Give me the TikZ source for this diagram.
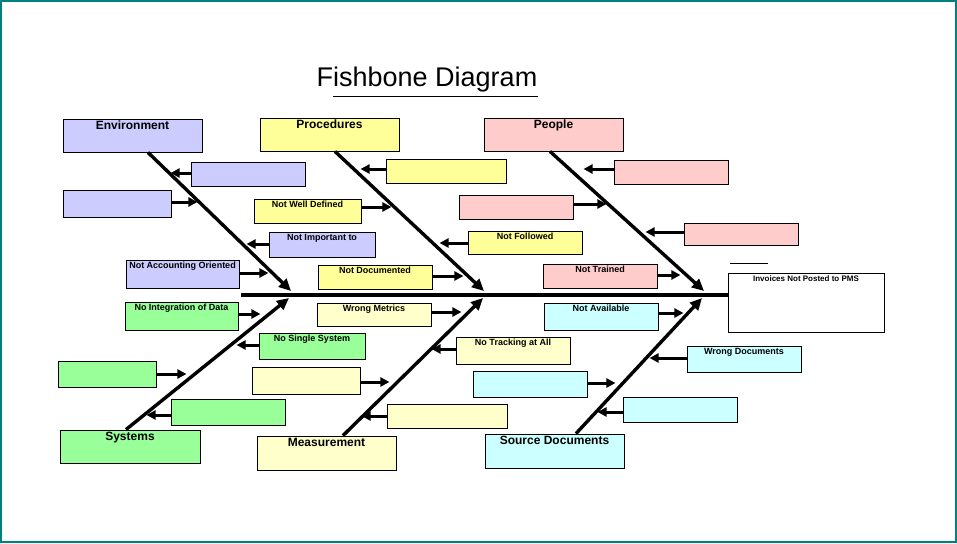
\documentclass[tikz,border=0pt]{standalone}
\usepackage{fontspec}
\setmainfont{Liberation Sans}
\usetikzlibrary{arrows.meta}
\definecolor{envblue}{RGB}{204,204,255}
\definecolor{procyellow}{RGB}{255,255,153}
\definecolor{peoplepink}{RGB}{255,204,204}
\definecolor{sysgreen}{RGB}{153,255,153}
\definecolor{measyellow}{RGB}{255,255,204}
\definecolor{srccyan}{RGB}{204,255,255}
\definecolor{frameteal}{RGB}{0,128,128}

% box: name, x1, y1, x2, y2, fill, text, font
\newcommand{\fishbox}[8]{%
  \node[draw=black, line width=0.9pt, fill=#6, inner sep=0pt, minimum width={(#4-#2)*1pt}, minimum height={(#5-#3)*1pt},
    label={[anchor=north, inner sep=2.5pt, font=#8]north:#7}] (#1) at ({(#2+#4)/2},{(#3+#5)/2}) {};}
\newcommand{\headfont}{\bfseries\fontsize{12}{14}\selectfont}
\newcommand{\causefont}{\bfseries\fontsize{9}{10}\selectfont}

\begin{document}
\begin{tikzpicture}[x=1pt, y=-1pt,
    bone/.style={line width=3.4pt, -{Triangle[length=12pt,width=11pt]}},
    twig/.style={line width=3pt, -{Triangle[length=9pt,width=9pt]}}]
    \useasboundingbox (0,0) rectangle (957,543);
    \draw[frameteal, line width=2pt] (1,1) rectangle (956,542);

    % Title
    \node[font=\fontsize{27}{30}\selectfont] (title) at (427,80) {Fishbone Diagram};
    \draw[line width=0.9pt] (333,96) -- (538,96);

    % Spine and effect
    \fishbox{effect}{728}{273}{884}{332}{white}{Invoices Not Posted to PMS}{\bfseries\fontsize{8}{9}\selectfont}
    \draw[line width=0.9pt] (730,263) -- (768,263);
    \draw[line width=3.6pt] (241,295) -- (effect.west |- 0,295);

    % Category boxes
    \fishbox{env}{63}{119}{202}{152}{envblue}{Environment}{\headfont}
    \fishbox{proc}{260}{118}{399}{151}{procyellow}{Procedures}{\headfont}
    \fishbox{ppl}{484}{118}{623}{151}{peoplepink}{People}{\headfont}
    \fishbox{sys}{60}{430}{200}{463}{sysgreen}{Systems}{\headfont}
    \fishbox{meas}{257}{436}{396}{470}{measyellow}{Measurement}{\headfont}
    \fishbox{src}{485}{434}{624}{468}{srccyan}{Source Documents}{\headfont}

    % Bones
    \coordinate (envhead) at (291,291);
    \coordinate (prochead) at (484,291);
    \coordinate (pplhead) at (704,291);
    \coordinate (syshead) at (289,298);
    \coordinate (meashead) at (483,298);
    \coordinate (srchead) at (702,298);
    \draw[bone] (env.south -| 148,0) -- (envhead);
    \draw[bone] (proc.south -| 335,0) -- (prochead);
    \draw[bone] (ppl.south -| 550,0) -- (pplhead);
    \draw[bone] (sys.north -| 126,0) -- (syshead);
    \draw[bone] (meas.north -| 343,0) -- (meashead);
    \draw[bone] (src.north -| 576,0) -- (srchead);

    % Environment causes
    \fishbox{env1}{191}{162}{305}{186}{envblue}{}{\tiny}
    \fishbox{env2}{63}{190}{171}{217}{envblue}{}{\tiny}
    \fishbox{env3}{269}{232}{375}{257}{envblue}{Not Important to}{\causefont}
    \fishbox{env4}{126}{260}{239}{288}{envblue}{Not Accounting Oriented}{\causefont}
    \draw[twig] (env1.west |- 0,173) -- ++(-20,0);
    \draw[twig] (env2.east |- 0,202) -- ++(26,0);
    \draw[twig] (env3.west |- 0,244) -- ++(-22,0);
    \draw[twig] (env4.east |- 0,273) -- ++(29,0);

    % Procedures causes
    \fishbox{proc1}{386}{159}{506}{183}{procyellow}{}{\tiny}
    \fishbox{proc2}{254}{199}{361}{223}{procyellow}{Not Well Defined}{\causefont}
    \fishbox{proc3}{468}{231}{582}{254}{procyellow}{Not Followed}{\causefont}
    \fishbox{proc4}{318}{265}{432}{289}{procyellow}{Not Documented}{\causefont}
    \draw[twig] (proc1.west |- 0,169) -- ++(-25,0);
    \draw[twig] (proc2.east |- 0,207) -- ++(30,0);
    \draw[twig] (proc3.west |- 0,243) -- ++(-28,0);
    \draw[twig] (proc4.east |- 0,276) -- ++(31,0);

    % People causes
    \fishbox{ppl1}{614}{160}{728}{184}{peoplepink}{}{\tiny}
    \fishbox{ppl2}{459}{195}{573}{219}{peoplepink}{}{\tiny}
    \fishbox{ppl3}{684}{223}{798}{245}{peoplepink}{}{\tiny}
    \fishbox{ppl4}{543}{264}{657}{288}{peoplepink}{Not Trained}{\causefont}
    \draw[twig] (ppl1.west |- 0,169) -- ++(-30,0);
    \draw[twig] (ppl2.east |- 0,204) -- ++(33,0);
    \draw[twig] (ppl3.west |- 0,232) -- ++(-38,0);
    \draw[twig] (ppl4.east |- 0,275) -- ++(23,0);

    % Systems causes
    \fishbox{sys1}{125}{302}{238}{330}{sysgreen}{No Integration of Data}{\causefont}
    \fishbox{sys2}{259}{333}{365}{359}{sysgreen}{No Single System}{\causefont}
    \fishbox{sys3}{58}{361}{156}{387}{sysgreen}{}{\tiny}
    \fishbox{sys4}{171}{399}{285}{425}{sysgreen}{}{\tiny}
    \draw[twig] (sys1.east |- 0,314) -- ++(22,0);
    \draw[twig] (sys2.west |- 0,345) -- ++(-22,0);
    \draw[twig] (sys3.east |- 0,374) -- ++(30,0);
    \draw[twig] (sys4.west |- 0,415) -- ++(-24,0);

    % Measurement causes
    \fishbox{meas1}{317}{303}{431}{326}{measyellow}{Wrong Metrics}{\causefont}
    \fishbox{meas2}{456}{337}{570}{364}{measyellow}{No Tracking at All}{\causefont}
    \fishbox{meas3}{252}{367}{360}{394}{measyellow}{}{\tiny}
    \fishbox{meas4}{387}{404}{507}{428}{measyellow}{}{\tiny}
    \draw[twig] (meas1.east |- 0,312) -- ++(30,0);
    \draw[twig] (meas2.west |- 0,349) -- ++(-24,0);
    \draw[twig] (meas3.east |- 0,382) -- ++(29,0);
    \draw[twig] (meas4.west |- 0,416) -- ++(-25,0);

    % Source Documents causes
    \fishbox{src1}{544}{303}{658}{330}{srccyan}{Not Available}{\causefont}
    \fishbox{src2}{687}{346}{801}{372}{srccyan}{Wrong Documents}{\causefont}
    \fishbox{src3}{473}{371}{587}{397}{srccyan}{}{\tiny}
    \fishbox{src4}{623}{397}{737}{422}{srccyan}{}{\tiny}
    \draw[twig] (src1.east |- 0,313) -- ++(25,0);
    \draw[twig] (src2.west |- 0,358) -- ++(-37,0);
    \draw[twig] (src3.east |- 0,383) -- ++(28,0);
    \draw[twig] (src4.west |- 0,412) -- ++(-25,0);
\end{tikzpicture}
\end{document}
